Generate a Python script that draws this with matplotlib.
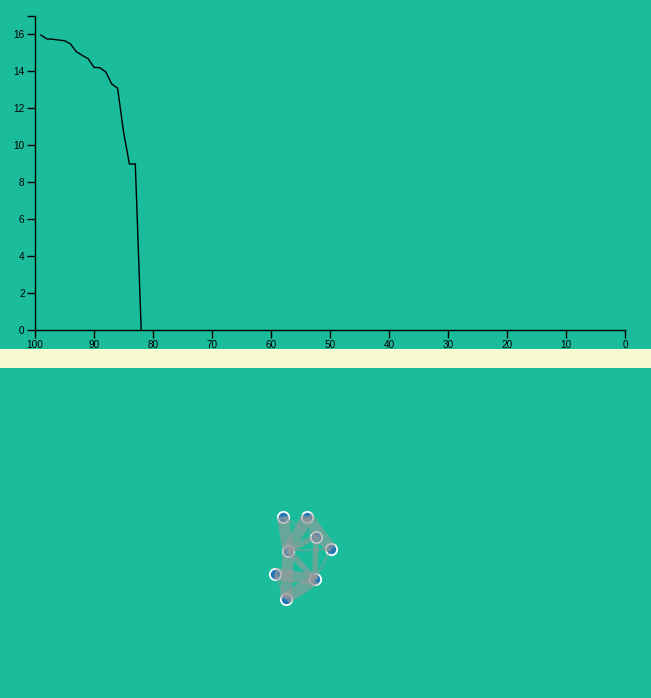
import matplotlib
matplotlib.use("Agg")
import matplotlib.pyplot as plt

# ---- data ----
x_vals = [99, 98, 97, 96, 95, 94, 93, 92, 91, 90, 89, 88, 87, 86, 85, 84, 83, 82]
y_vals = [15.97, 15.76, 15.74, 15.70, 15.66, 15.49, 15.07, 14.87, 14.69, 14.22,
          14.20, 13.97, 13.32, 13.09, 10.74, 8.99, 8.99, 0.0]
x_ticks = [100, 90, 80, 70, 60, 50, 40, 30, 20, 10, 0]
y_ticks = [0, 2, 4, 6, 8, 10, 12, 14, 16]

node_names = ["A", "B", "C", "D", "E", "F", "G", "H"]
node_x = [282.7, 307.0, 316.0, 331.0, 288.3, 274.7, 315.0, 286.0]
node_y = [516.7, 516.7, 536.7, 549.3, 550.7, 574.0, 579.3, 598.7]
edge_src = ["A", "B", "B", "A", "E", "E", "E", "E", "C", "D", "F", "F", "G"]
edge_dst = ["E", "E", "D", "C", "C", "D", "G", "H", "G", "G", "G", "H", "H"]
edge_val = [8, 8, 8, 1, 4, 1, 4, 8, 4, 1, 8, 1, 8]

TEAL = "#1abc9c"
BEIGE = "#fafad2"
W, H = 651, 698

plt.rcParams['font.family'] = ['Liberation Sans', 'DejaVu Sans']
fig = plt.figure(figsize=(W / 100, H / 100), dpi=100)
fig.patch.set_facecolor(TEAL)

# ---- line chart ----
ax = fig.add_axes([35 / W, (H - 330) / H, 590 / W, 314 / H])
ax.set_facecolor(TEAL)
ax.plot(x_vals, y_vals, color="black", linewidth=1)
ax.set_xlim(100, 0)
ax.set_ylim(0, 17)
ax.set_xticks(x_ticks)
ax.set_yticks(y_ticks)
ax.set_yticks([17], minor=True)
ax.tick_params(axis="both", which="both", direction="out", length=6, width=1,
               color="black", labelsize=7.2, labelcolor="black", pad=1.5)
for s in ["top", "right"]:
    ax.spines[s].set_visible(False)
for s in ["left", "bottom"]:
    ax.spines[s].set_linewidth(1)
    ax.spines[s].set_color("black")

# ---- beige band ----
band = fig.add_axes([0, (H - 368) / H, 1, 19 / H])
band.set_facecolor(BEIGE)
band.set_xticks([]); band.set_yticks([])
for s in band.spines.values():
    s.set_visible(False)

# ---- network ----
net = fig.add_axes([0, 0, 1, (H - 368) / H])
net.set_facecolor(TEAL)
net.set_xlim(0, W)
net.set_ylim(H, 368)
net.axis("off")
pos = {n: (x, y) for n, x, y in zip(node_names, node_x, node_y)}
net.scatter(node_x, node_y, s=66, color="#1f77b4", edgecolor="white",
            linewidth=1.3, zorder=2)
for a, b, v in zip(edge_src, edge_dst, edge_val):
    (x1, y1), (x2, y2) = pos[a], pos[b]
    net.plot([x1, x2], [y1, y2], color="#999999", alpha=0.6,
             linewidth=v * 1.05, solid_capstyle="butt", zorder=3)

fig.savefig("out.png", dpi=100, facecolor=TEAL)
